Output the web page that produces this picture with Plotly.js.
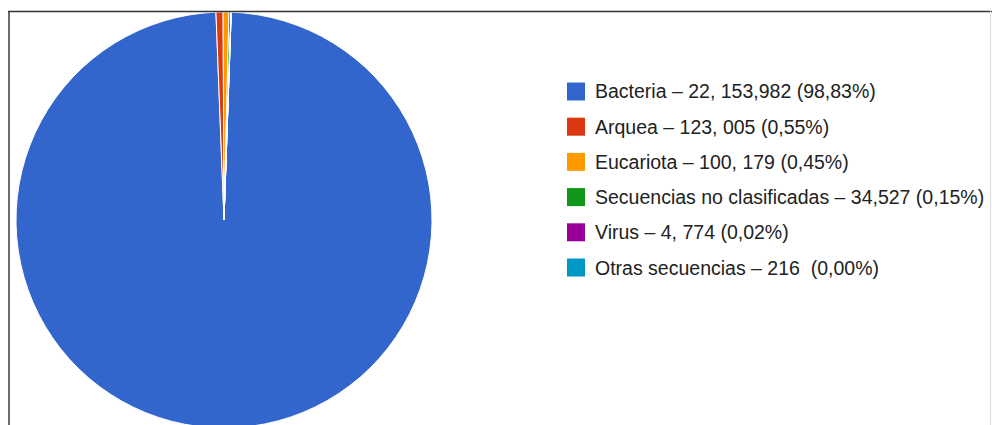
<!DOCTYPE html>
<html>
<head>
<meta charset="utf-8">
<script src="https://cdn.plot.ly/plotly-3.0.1.min.js"></script>
<style>
html,body{margin:0;padding:0;overflow:hidden;background:#fff;}
#chart{width:992px;height:428px;}
</style>
</head>
<body>
<div id="chart"></div>
<script>
const categories = ["Bacteria", "Arquea", "Eucariota", "Secuencias no clasificadas", "Virus", "Otras secuencias"];
const values = [22153982, 123005, 100179, 34527, 4774, 216];
const legendLabels = [
  "Bacteria \u2013 22, 153,982 (98,83%)",
  "Arquea \u2013 123, 005 (0,55%)",
  "Eucariota \u2013 100, 179 (0,45%)",
  "Secuencias no clasificadas \u2013 34,527 (0,15%)",
  "Virus \u2013 4, 774 (0,02%)",
  "Otras secuencias \u2013 216\u00a0 (0,00%)"
];
const colors = ["#3366cc", "#dc3912", "#ff9900", "#109618", "#990099", "#0099c6"];

const W = 992, H = 428;
const px = x => x / W;
const py = y => 1 - y / H;

const trace = {
  type: "pie",
  labels: categories,
  values: values,
  sort: false,
  direction: "clockwise",
  rotation: 2,
  textinfo: "none",
  hoverinfo: "label+value+percent",
  marker: {colors: colors, line: {color: "#ffffff", width: 1}},
  domain: {x: [px(16), px(432)], y: [0, py(12)]},
  showlegend: false
};

const shapes = [];
const annotations = [];
const top0 = 91.5, step = 35.2;
categories.forEach((c, i) => {
  const yc = top0 + step * i;
  shapes.push({
    type: "rect", xref: "paper", yref: "paper",
    x0: px(567), x1: px(585), y0: py(yc - 9), y1: py(yc + 9),
    fillcolor: colors[i], line: {width: 0}
  });
  annotations.push({
    xref: "paper", yref: "paper", x: px(593), y: py(yc),
    xanchor: "left", yanchor: "middle", showarrow: false,
    text: legendLabels[i],
    font: {family: "Liberation Sans, Arial, sans-serif", size: 19.5, color: "#222222"}
  });
});
// frame
shapes.push({type: "line", xref: "paper", yref: "paper", x0: px(9), x1: px(9), y0: py(11), y1: 0, line: {color: "#6e6e6e", width: 2}});
shapes.push({type: "line", xref: "paper", yref: "paper", x0: px(8), x1: px(992), y0: py(11.5), y1: py(11.5), line: {color: "#333333", width: 1.5}});
shapes.push({type: "line", xref: "paper", yref: "paper", x0: px(990.5), x1: px(990.5), y0: py(11), y1: 0, line: {color: "#dddddd", width: 1}});

const layout = {
  width: W, height: H,
  margin: {l: 0, r: 0, t: 0, b: 0},
  paper_bgcolor: "#ffffff",
  showlegend: false,
  shapes: shapes,
  annotations: annotations
};

Plotly.newPlot("chart", [trace], layout, {displayModeBar: false, staticPlot: true});
</script>
</body>
</html>
